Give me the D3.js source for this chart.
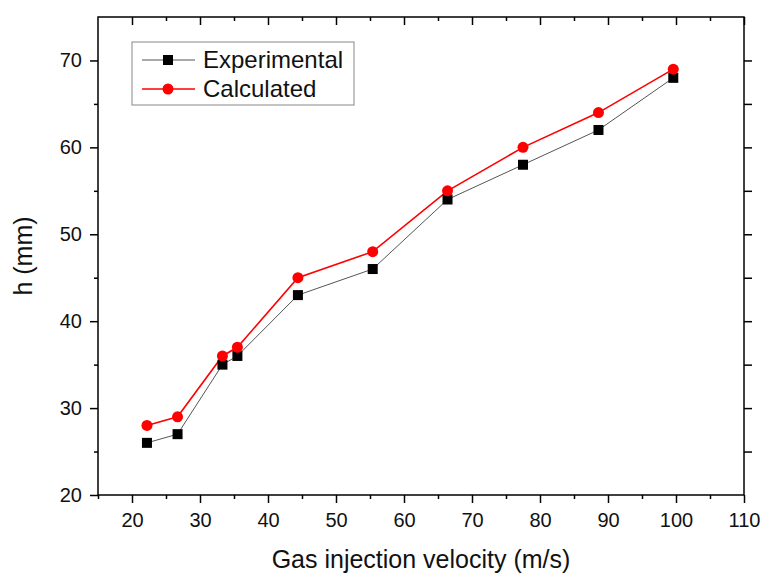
<!DOCTYPE html>
<html>
<head>
<meta charset="utf-8">
<script src="https://cdn.jsdelivr.net/npm/d3@7"></script>
<style>
  body { margin: 0; background: #fff; }
  svg { display: block; font-family: "Liberation Sans", Arial, sans-serif; }
</style>
</head>
<body>
<svg></svg>
<script>
// data
const velocity = [22.2, 26.7, 33.3, 35.5, 44.4, 55.4, 66.4, 77.5, 88.6, 99.6];
const experimental = [26, 27, 35, 36, 43, 46, 54, 58, 62, 68];
const calculated = [28, 29, 36, 37, 45, 48, 55, 60, 64, 69];
const xTicks = [20, 30, 40, 50, 60, 70, 80, 90, 100, 110];
const xMinor = [15, 25, 35, 45, 55, 65, 75, 85, 95, 105];
const yTicks = [20, 30, 40, 50, 60, 70];
const yMinor = [25, 35, 45, 55, 65];

const W = 763, H = 575;
const margin = { top: 17, right: 19, bottom: 80, left: 98 };
const iw = W - margin.left - margin.right;
const ih = H - margin.top - margin.bottom;

const svg = d3.select('svg').attr('width', W).attr('height', H);

const x = d3.scaleLinear().domain([15, 110]).range([0, iw]);
const y = d3.scaleLinear().domain([20, 75]).range([ih, 0]);

const g = svg.append('g')
  .attr('transform', `translate(${margin.left},${margin.top})`);

const styleAxis = sel => {
  sel.select('.domain').remove();
  sel.selectAll('line').attr('stroke', '#000').attr('stroke-width', 1.5);
  sel.selectAll('text').attr('font-size', 20).attr('fill', '#111');
};

// bottom
g.append('g').attr('transform', `translate(0,${ih})`)
  .call(d3.axisBottom(x).tickValues(xTicks).tickSize(8).tickPadding(10))
  .call(styleAxis);
g.append('g').attr('transform', `translate(0,${ih})`)
  .call(d3.axisBottom(x).tickValues(xMinor).tickSize(4).tickFormat(''))
  .call(styleAxis);
// top (inward)
g.append('g')
  .call(d3.axisTop(x).tickValues(xTicks).tickSize(-8).tickFormat(''))
  .call(styleAxis);
g.append('g')
  .call(d3.axisTop(x).tickValues(xMinor.slice(1)).tickSize(-4).tickFormat(''))
  .call(styleAxis);
// left
g.append('g')
  .call(d3.axisLeft(y).tickValues(yTicks).tickSize(8).tickPadding(8))
  .call(styleAxis);
g.append('g')
  .call(d3.axisLeft(y).tickValues(yMinor).tickSize(4).tickFormat(''))
  .call(styleAxis);
// right (outward)
g.append('g').attr('transform', `translate(${iw},0)`)
  .call(d3.axisRight(y).tickValues(yTicks.slice(1).concat(yMinor)).tickSize(8).tickFormat(''))
  .call(styleAxis);

// frame
g.append('rect')
  .attr('width', iw).attr('height', ih)
  .attr('fill', 'none').attr('stroke', '#000').attr('stroke-width', 1.5);

const line = d3.line().x((d, i) => x(velocity[i])).y(d => y(d));

g.append('path').datum(experimental)
  .attr('d', line).attr('fill', 'none')
  .attr('stroke', '#555').attr('stroke-width', 1);
g.append('path').datum(calculated)
  .attr('d', line).attr('fill', 'none')
  .attr('stroke', '#ff0000').attr('stroke-width', 1.6);

g.selectAll('.sq').data(experimental).enter().append('rect')
  .attr('x', (d, i) => x(velocity[i]) - 5)
  .attr('y', d => y(d) - 5)
  .attr('width', 10).attr('height', 10)
  .attr('fill', '#000');

g.selectAll('.ci').data(calculated).enter().append('circle')
  .attr('cx', (d, i) => x(velocity[i]))
  .attr('cy', d => y(d))
  .attr('r', 5.5)
  .attr('fill', '#ff0000');

// axis titles
svg.append('text')
  .attr('x', margin.left + iw / 2).attr('y', 568)
  .attr('text-anchor', 'middle').attr('font-size', 25).attr('fill', '#111')
  .text('Gas injection velocity (m/s)');
svg.append('text')
  .attr('transform', `translate(32,${margin.top + ih / 2}) rotate(-90)`)
  .attr('text-anchor', 'middle').attr('font-size', 25).attr('fill', '#111')
  .text('h (mm)');

// legend
const lg = svg.append('g').attr('transform', 'translate(132,42)');
lg.append('rect').attr('width', 222).attr('height', 63)
  .attr('fill', '#fff').attr('stroke', '#888').attr('stroke-width', 1);
const items = [
  { name: 'Experimental', color: '#555', mark: 'square' },
  { name: 'Calculated', color: '#ff0000', mark: 'circle' }
];
items.forEach((it, i) => {
  const yy = 18 + i * 29;
  lg.append('line').attr('x1', 10).attr('x2', 63).attr('y1', yy).attr('y2', yy)
    .attr('stroke', it.color).attr('stroke-width', it.mark === 'circle' ? 1.6 : 1);
  if (it.mark === 'square') {
    lg.append('rect').attr('x', 36 - 5).attr('y', yy - 5).attr('width', 10).attr('height', 10).attr('fill', '#000');
  } else {
    lg.append('circle').attr('cx', 36).attr('cy', yy).attr('r', 5.5).attr('fill', '#ff0000');
  }
  lg.append('text').attr('x', 71).attr('y', yy + 8)
    .attr('font-size', 24).attr('fill', '#111').text(it.name);
});
</script>
</body>
</html>
